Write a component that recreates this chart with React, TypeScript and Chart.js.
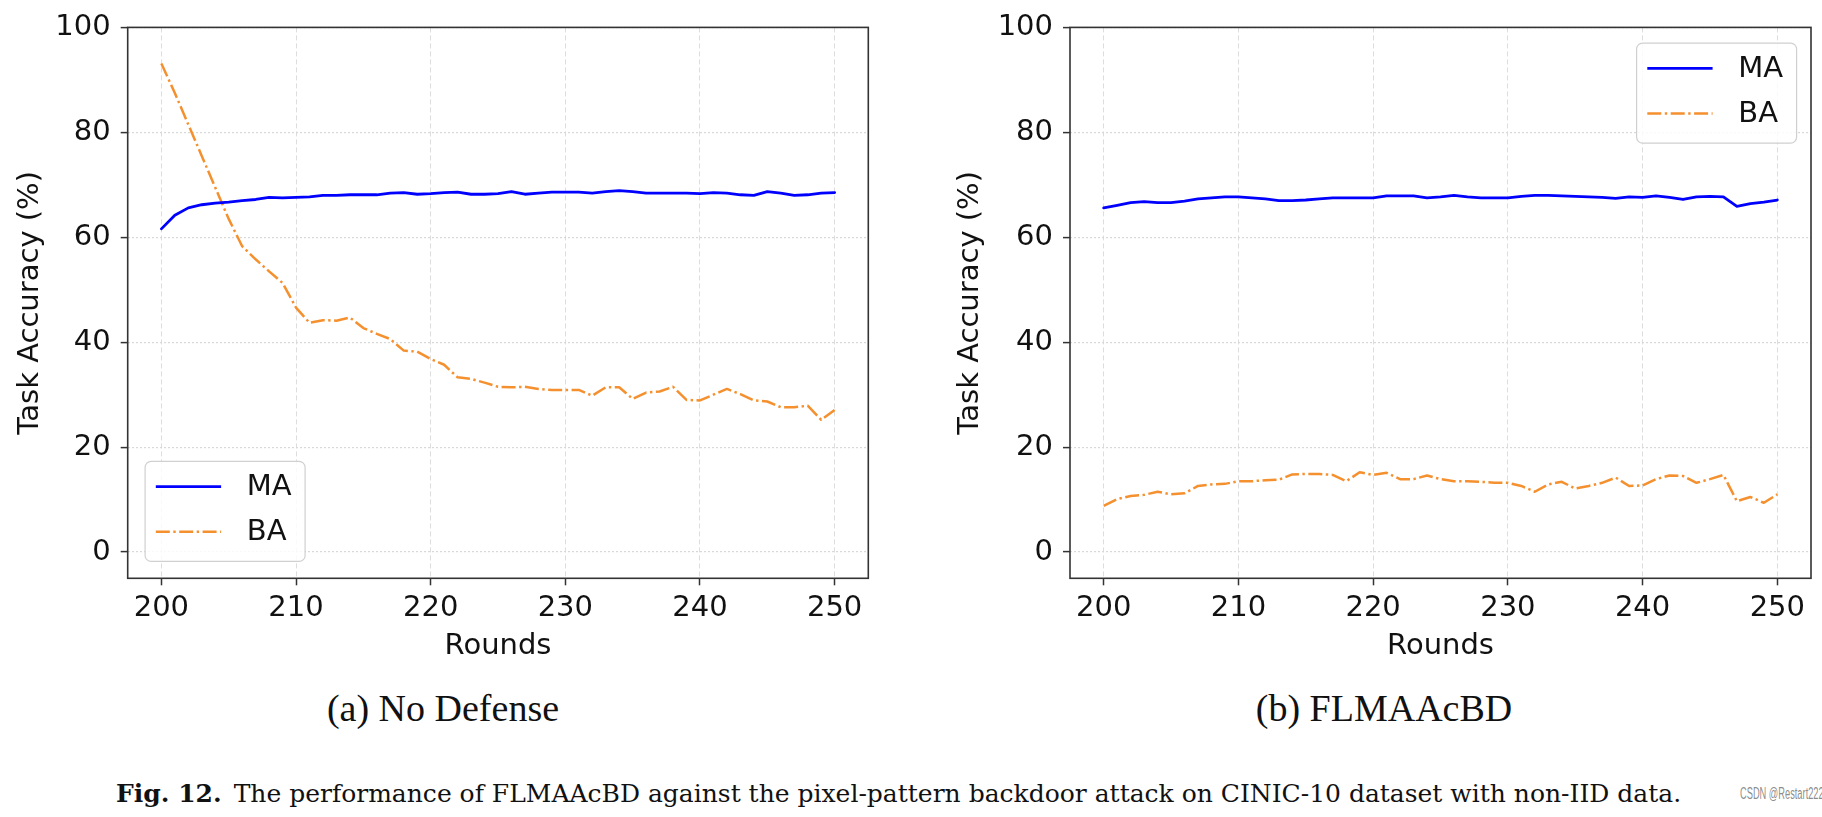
import React, { useEffect, useRef } from "react";
import { Chart, registerables } from "chart.js";
Chart.register(...registerables);

const rounds = [
  200, 201, 202, 203, 204, 205, 206, 207, 208, 209,
  210, 211, 212, 213, 214, 215, 216, 217, 218, 219,
  220, 221, 222, 223, 224, 225, 226, 227, 228, 229,
  230, 231, 232, 233, 234, 235, 236, 237, 238, 239,
  240, 241, 242, 243, 244, 245, 246, 247, 248, 249, 250,
];

const maNoDefense = [
  61.6, 64.2, 65.6, 66.2, 66.5, 66.7, 67.0, 67.2, 67.6, 67.5,
  67.6, 67.7, 68.0, 68.0, 68.1, 68.1, 68.1, 68.4, 68.5, 68.2,
  68.3, 68.5, 68.6, 68.2, 68.2, 68.3, 68.7, 68.2, 68.4, 68.6,
  68.6, 68.6, 68.4, 68.7, 68.9, 68.7, 68.4, 68.4, 68.4, 68.4,
  68.3, 68.5, 68.4, 68.1, 68.0, 68.7, 68.4, 68.0, 68.1, 68.4, 68.5,
];
const baNoDefense = [
  93.1, 87.5, 81.5, 75.5, 69.5, 63.5, 58.3, 55.8, 53.5, 51.3,
  46.6, 43.7, 44.2, 44.1, 44.7, 42.7, 41.6, 40.6, 38.4, 38.2,
  36.8, 35.7, 33.3, 33.0, 32.3, 31.5, 31.4, 31.5, 31.1, 30.9,
  30.9, 30.9, 29.8, 31.4, 31.4, 29.2, 30.4, 30.6, 31.5, 29.0,
  28.9, 30.0, 31.1, 30.1, 28.9, 28.7, 27.6, 27.6, 27.9, 25.2, 27.1,
];
const maFlmaacbd = [
  65.6, 66.1, 66.6, 66.8, 66.6, 66.6, 66.9, 67.3, 67.5, 67.7,
  67.7, 67.5, 67.3, 67.0, 67.0, 67.1, 67.3, 67.5, 67.5, 67.5,
  67.5, 67.9, 67.9, 67.9, 67.5, 67.7, 68.0, 67.7, 67.5, 67.5,
  67.5, 67.8, 68.0, 68.0, 67.9, 67.8, 67.7, 67.6, 67.4, 67.7,
  67.6, 67.9, 67.6, 67.2, 67.7, 67.8, 67.7, 65.9, 66.4, 66.7, 67.1,
];
const baFlmaacbd = [
  8.8, 10.1, 10.7, 10.9, 11.5, 11.0, 11.2, 12.6, 12.9, 13.0,
  13.5, 13.5, 13.7, 13.8, 14.8, 14.9, 14.9, 14.7, 13.5, 15.2,
  14.7, 15.1, 13.9, 13.9, 14.6, 13.9, 13.5, 13.5, 13.4, 13.2,
  13.2, 12.6, 11.5, 12.9, 13.4, 12.1, 12.6, 13.2, 14.2, 12.6,
  12.7, 13.9, 14.6, 14.5, 13.2, 13.9, 14.7, 9.7, 10.5, 9.4, 11.0,
];

const xTicks = [200, 210, 220, 230, 240, 250];
const yTicks = [0, 20, 40, 60, 80, 100];
const seriesLabels = ["MA", "BA"];

const MA_COLOR = "#0000ff";
const BA_COLOR = "#f5902f";
const BA_DASH = [14, 3.5, 2.4, 3.5];
const FONT = "'DejaVu Sans', sans-serif";

const spinesPlugin = {
  id: "spines",
  afterDatasetsDraw(chart: any) {
    const { ctx, chartArea } = chart;
    ctx.save();
    ctx.strokeStyle = "#333333";
    ctx.lineWidth = 1.6;
    ctx.setLineDash([]);
    ctx.strokeRect(chartArea.left, chartArea.top, chartArea.right - chartArea.left, chartArea.bottom - chartArea.top);
    ctx.restore();
  },
};

const boxLegendPlugin = {
  id: "boxLegend",
  afterDraw(chart: any, _args: any, opts: any) {
    const { ctx, chartArea } = chart;
    const w = 160, h = 100, pad = 14.4;
    const left = opts.corner === "lowerLeft" ? chartArea.left + pad + 3 : chartArea.right - pad - w;
    const top = opts.corner === "lowerLeft" ? chartArea.bottom - pad - h - 2.5 : chartArea.top + pad + 1.3;
    ctx.save();
    ctx.beginPath();
    (ctx as any).roundRect(left, top, w, h, 6);
    ctx.fillStyle = "rgba(255,255,255,0.85)";
    ctx.fill();
    ctx.strokeStyle = "#d0d0d0";
    ctx.lineWidth = 1.2;
    ctx.stroke();
    chart.data.datasets.forEach((ds: any, i: number) => {
      const y = top + 25.3 + i * 45;
      ctx.beginPath();
      ctx.strokeStyle = ds.borderColor;
      ctx.lineWidth = ds.borderWidth;
      ctx.setLineDash(ds.borderDash || []);
      ctx.lineCap = "butt";
      ctx.moveTo(left + 10.7, y);
      ctx.lineTo(left + 76, y);
      ctx.stroke();
      ctx.setLineDash([]);
      ctx.fillStyle = "#111111";
      ctx.font = `29px ${FONT}`;
      ctx.textAlign = "left";
      ctx.textBaseline = "middle";
      ctx.fillText(ds.label, left + 101.7, y + 1);
    });
    ctx.restore();
  },
};

type PanelProps = {
  ma: number[];
  ba: number[];
  corner: "lowerLeft" | "upperRight";
  left: number;
  width: number;
  yAxisWidth: number;
  rightPad: number;
};

function Panel({ ma, ba, corner, left, width, yAxisWidth, rightPad }: PanelProps) {
  const ref = useRef<HTMLCanvasElement | null>(null);
  const height = 680;
  useEffect(() => {
    if (!ref.current) return;
    const chart = new Chart(ref.current, {
      type: "line",
      data: {
        datasets: [
          {
            label: seriesLabels[0],
            data: rounds.map((r, i) => ({ x: r, y: ma[i] })),
            borderColor: MA_COLOR,
            borderWidth: 2.8,
            pointRadius: 0,
            tension: 0,
            fill: false,
            borderJoinStyle: "round",
            borderCapStyle: "round",
          },
          {
            label: seriesLabels[1],
            data: rounds.map((r, i) => ({ x: r, y: ba[i] })),
            borderColor: BA_COLOR,
            borderWidth: 2.5,
            borderDash: BA_DASH,
            pointRadius: 0,
            tension: 0,
            fill: false,
            borderJoinStyle: "round",
            borderCapStyle: "butt",
          },
        ],
      } as any,
      options: {
        animation: false,
        responsive: false,
        events: [],
        layout: { padding: { left: 0, right: rightPad, top: 25, bottom: 0 } },
        plugins: {
          legend: { display: false },
          tooltip: { enabled: false },
          boxLegend: { corner },
        } as any,
        scales: {
          x: {
            type: "linear",
            min: 197.5,
            max: 252.5,
            afterBuildTicks: (s: any) => {
              s.ticks = xTicks.map((v) => ({ value: v }));
            },
            afterFit: (s: any) => {
              s.height = height - 578.3;
            },
            border: { display: false, dash: [5, 3] },
            grid: {
              color: "#dddddd",
              lineWidth: 1,
              tickLength: 7,
              tickColor: "#333333",
              tickWidth: 1.5,
              tickBorderDash: [],
            },
            ticks: {
              font: { family: FONT, size: 29 },
              color: "#111111",
              padding: 6,
              maxRotation: 0,
              callback: (v: any) => String(v),
            },
            title: {
              display: true,
              text: "Rounds",
              font: { family: FONT, size: 29 },
              color: "#111111",
              padding: { top: 0, bottom: 16 },
            },
          },
          y: {
            type: "linear",
            min: -5,
            max: 100,
            afterBuildTicks: (s: any) => {
              s.ticks = yTicks.map((v) => ({ value: v }));
            },
            afterFit: (s: any) => {
              s.width = yAxisWidth;
            },
            border: { display: false, dash: [2, 2] },
            grid: {
              color: "#d8d8d8",
              lineWidth: 1.2,
              tickLength: 7,
              tickColor: "#333333",
              tickWidth: 1.5,
              tickBorderDash: [],
            },
            ticks: {
              font: { family: FONT, size: 29 },
              color: "#111111",
              padding: 10,
              callback: (v: any) => String(v),
            },
            title: {
              display: true,
              text: "Task Accuracy (%)",
              font: { family: FONT, size: 29 },
              color: "#111111",
              padding: { top: 12.6, bottom: 0 },
            },
          },
        },
      } as any,
      plugins: [spinesPlugin, boxLegendPlugin],
    });
    return () => chart.destroy();
  }, []);
  return (
    <canvas
      ref={ref}
      width={width}
      height={height}
      style={{ position: "absolute", left, top: 0, width, height }}
    />
  );
}

const captionA = "(a) No Defense";
const captionB = "(b) FLMAAcBD";
const figLabel = "Fig. 12.";
const figText = "The performance of FLMAAcBD against the pixel-pattern backdoor attack on CINIC-10 dataset with non-IID data.";
const watermark = "CSDN @Restart222";

export default function App() {
  const serif = "'Liberation Serif', 'Times New Roman', serif";
  const capSerif = "'DejaVu Serif', 'Liberation Serif', serif";
  return (
    <div style={{ position: "absolute", left: 0, top: 0, width: 1822, height: 817, background: "#ffffff", overflow: "hidden" }}>
      <Panel ma={maNoDefense} ba={baNoDefense} corner="lowerLeft" left={0} width={880} yAxisWidth={127.7} rightPad={11.7} />
      <Panel ma={maFlmaacbd} ba={baFlmaacbd} corner="upperRight" left={940} width={882} yAxisWidth={130} rightPad={11} />
      <div style={{ position: "absolute", left: 243, width: 400, top: 686, lineHeight: "44px", textAlign: "center", fontFamily: serif, fontSize: 38, color: "#111" }}>
        {captionA}
      </div>
      <div style={{ position: "absolute", left: 1184, width: 400, top: 686, lineHeight: "44px", textAlign: "center", fontFamily: serif, fontSize: 38, color: "#111" }}>
        {captionB}
      </div>
      <div style={{ position: "absolute", left: 116, top: 779, lineHeight: "30px", whiteSpace: "nowrap", fontFamily: capSerif, fontSize: 25, color: "#111", transformOrigin: "left center", transform: "scaleX(1.0)" }}>
        <b>{figLabel}</b>
        <span style={{ marginLeft: 12 }}>{figText}</span>
      </div>
      <div style={{ position: "absolute", left: 1740, top: 784, lineHeight: "20px", whiteSpace: "nowrap", fontFamily: "'Liberation Sans', sans-serif", fontSize: 16, color: "rgba(110,110,110,0.8)", transformOrigin: "left center", transform: "scaleX(0.58)" }}>
        {watermark}
      </div>
    </div>
  );
}
